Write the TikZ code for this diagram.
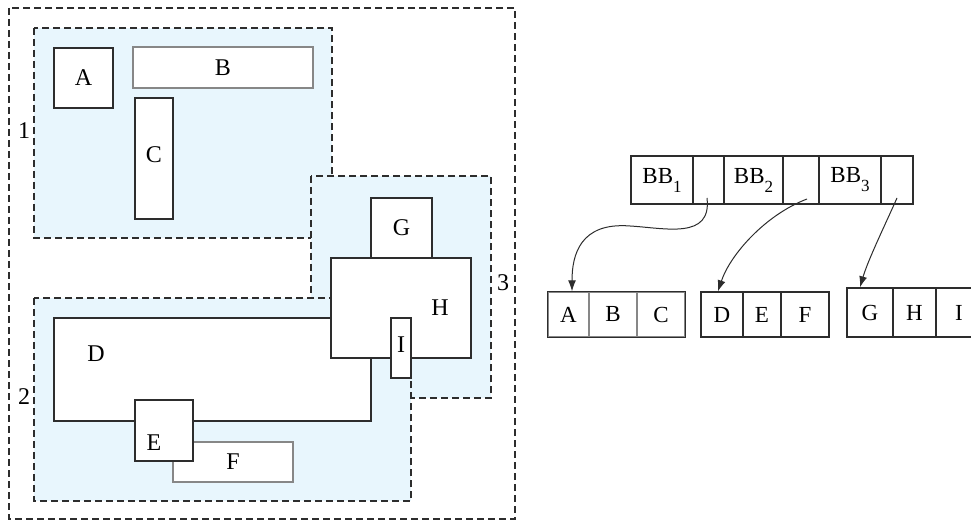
\documentclass[tikz,border=0pt]{standalone}
\usepackage{fontspec}
\setmainfont{Liberation Serif}
\usetikzlibrary{arrows.meta}
\definecolor{regfill}{RGB}{232,246,253}
\definecolor{ln}{RGB}{45,45,45}
\definecolor{lngrey}{RGB}{135,135,135}
\newcommand\sbs[1]{\raisebox{-9pt}{\fontsize{17}{17}\selectfont #1}}
\begin{document}
\begin{tikzpicture}[x=1pt,y=-1pt,
  box/.style={draw=ln, line width=1.4pt, fill=white, inner sep=0pt, anchor=center},
  gbox/.style={box, draw=lngrey},
  region/.style={draw=ln, line width=1.2pt, dash pattern=on 7pt off 4pt, fill=regfill},
  lab/.style={font=\fontsize{24}{28}\selectfont, inner sep=0pt},
  cell/.style={box, font=\fontsize{23}{26}\selectfont},
  ptr/.style={-{Latex[length=11pt,width=8pt]}, line width=1pt, draw=ln}]
\useasboundingbox (0,0) rectangle (971,521);
% outer and regions
\draw[region, fill=none] (9,8) rectangle (515,519);
\draw[region] (34,28) rectangle (332,238);
\draw[region] (311,176) rectangle (491,398);
\draw[region] (34,298) rectangle (411,501);
\node[lab] (n1) at (24,131) {1};
\node[lab] (n2) at (24,397) {2};
\node[lab] (n3) at (503,283) {3};
% boxes of region 1
\node[box, lab, minimum width=59pt, minimum height=60pt] (A) at (83.5,78) {A};
\node[gbox, lab, minimum width=180pt, minimum height=41pt] (B) at (223,67.5) {B};
\node[box, minimum width=38pt, minimum height=121pt] (C) at (154,158.5) {};
\node[lab] (Cl) at (154,155) {C};
% region 3 and 2
\node[box, lab, minimum width=61pt, minimum height=60pt] (G) at (401.5,228) {G};
\node[box, minimum width=317pt, minimum height=103pt] (D) at (212.5,369.5) {};
\node[lab] (Dl) at (96,354) {D};
\node[box, minimum width=140pt, minimum height=100pt] (H) at (401,308) {};
\node[lab] (Hl) at (440,308) {H};
\node[box, minimum width=20pt, minimum height=60pt] (I) at (401,348) {};
\node[lab] (Il) at (401,345) {I};
\node[gbox, lab, minimum width=120pt, minimum height=40pt] (F) at (233,462) {F};
\node[box, minimum width=58pt, minimum height=61pt] (E) at (164,430.5) {};
\node[lab] (El) at (154,443) {E};
% right: top array
\node[cell, minimum width=62pt, minimum height=48pt] (bb1) at (662,180) {BB\sbs{1}};
\node[cell, minimum width=31pt, minimum height=48pt] (p1) at (708.5,180) {};
\node[cell, minimum width=59pt, minimum height=48pt] (bb2) at (753.5,180) {BB\sbs{2}};
\node[cell, minimum width=36pt, minimum height=48pt] (p2) at (801,180) {};
\node[cell, minimum width=62pt, minimum height=48pt] (bb3) at (850,180) {BB\sbs{3}};
\node[cell, minimum width=32pt, minimum height=48pt] (p3) at (897,180) {};
% bottom arrays
\node[cell, draw=lngrey, minimum width=41pt, minimum height=45pt] (a1) at (568.5,314.5) {A};
\node[cell, draw=lngrey, minimum width=48pt, minimum height=45pt] (a2) at (613,314.5) {B};
\node[cell, draw=lngrey, minimum width=48pt, minimum height=45pt] (a3) at (661,314.5) {C};
\draw[draw=ln, line width=1.4pt] (a1.north west) rectangle (a3.south east);
\node[cell, minimum width=42pt, minimum height=45pt] (d1) at (722,314.5) {D};
\node[cell, minimum width=38pt, minimum height=45pt] (d2) at (762,314.5) {E};
\node[cell, minimum width=48pt, minimum height=45pt] (d3) at (805,314.5) {F};
\begin{scope}
\clip (0,0) rectangle (971,521);
\node[cell, minimum width=46pt, minimum height=49pt] (g1) at (870,312.5) {G};
\node[cell, minimum width=43pt, minimum height=49pt] (g2) at (914.5,312.5) {H};
\node[cell, minimum width=46pt, minimum height=49pt] (g3) at (959,312.5) {I};
\end{scope}
% pointers
\coordinate (s1) at (707,198);
\coordinate (s2) at (807,199);
\coordinate (s3) at (897,198);
\draw[ptr] (s1) .. controls (712,240) and (665,228) .. (630,226)
  .. controls (580,222) and (572,255) .. ([xshift=3.5pt]a1.north);
\draw[ptr] (s2) .. controls (765,215) and (730,255) .. ([xshift=-4pt]d1.north);
\draw[ptr] (s3) .. controls (885,225) and (868,260) .. ([xshift=-10pt]g1.north);
\end{tikzpicture}
\end{document}
